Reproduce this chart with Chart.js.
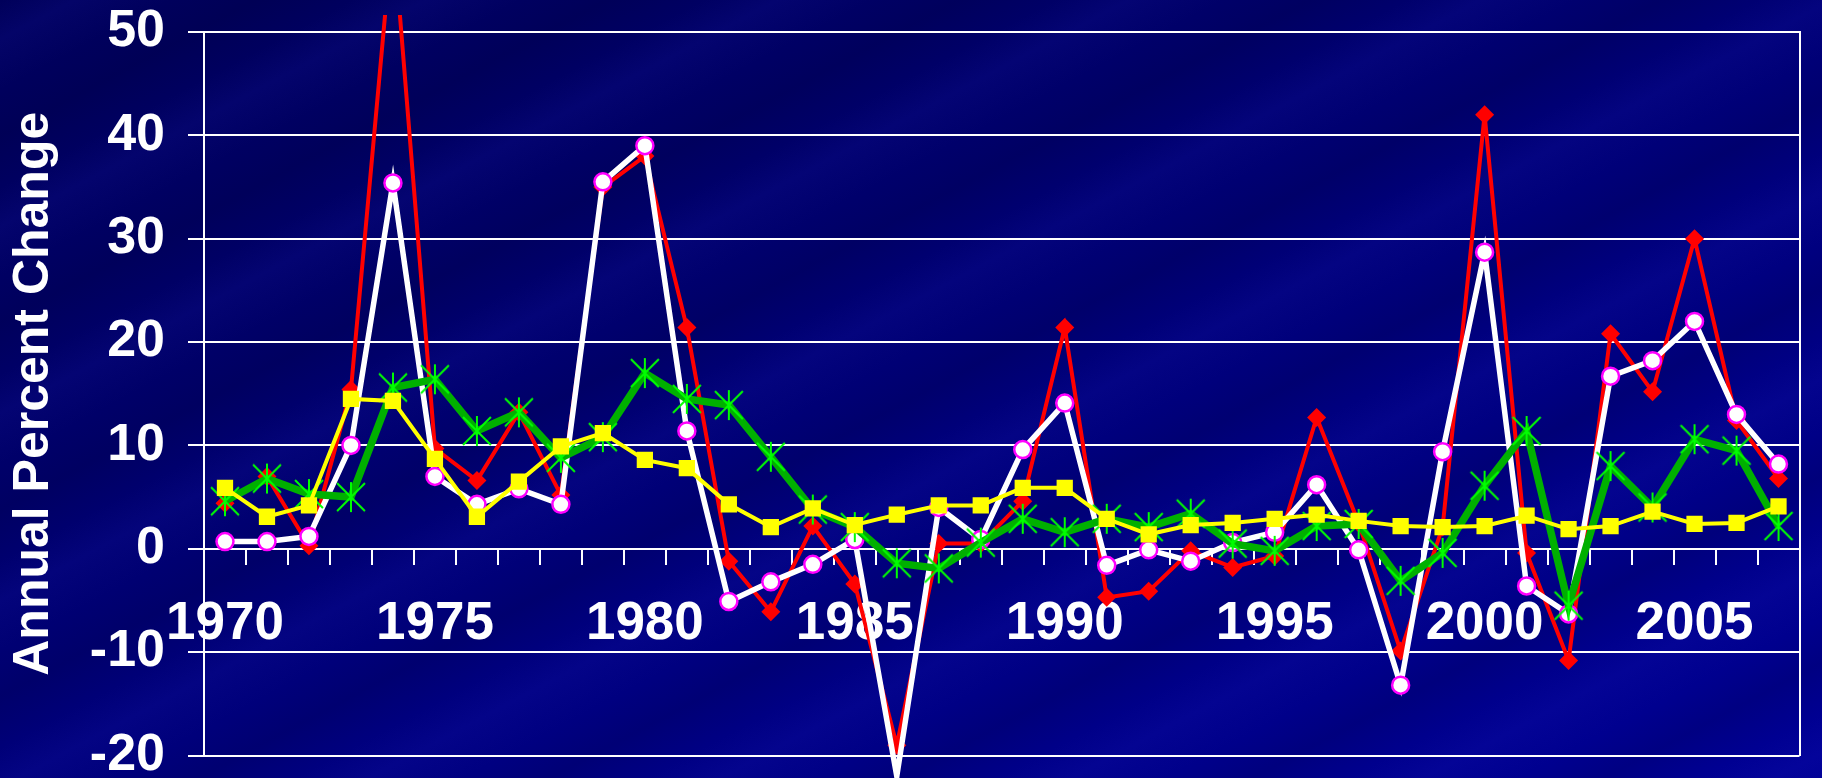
<!DOCTYPE html>
<html>
<head>
<meta charset="utf-8">
<script src="https://cdn.jsdelivr.net/npm/chart.js@4.4.1/dist/chart.umd.min.js"></script>
<style>
  html, body { margin: 0; padding: 0; background: #000070; }
  #wrap {
    width: 1822px; height: 778px; position: relative; overflow: hidden;
    background:
      repeating-linear-gradient(152deg, rgba(40,40,220,0) 0px, rgba(40,40,220,0.10) 35px, rgba(40,40,220,0) 80px, rgba(0,0,30,0.12) 120px, rgba(0,0,0,0) 165px),
      linear-gradient(160deg, #00005a 0%, #000068 30%, #00007e 60%, #000094 100%);
  }
  canvas { display: block; }
</style>
</head>
<body>
<div id="wrap"><canvas id="chart" width="1822" height="778"></canvas></div>
<script>
// categorie (anni) e etichette mostrate sull'asse x
const years = ['1970','1971','1972','1973','1974','1975','1976','1977','1978','1979',
  '1980','1981','1982','1983','1984','1985','1986','1987','1988','1989',
  '1990','1991','1992','1993','1994','1995','1996','1997','1998','1999',
  '2000','2001','2002','2003','2004','2005','2006','2007'];
const tickYears = ['1970','1975','1980','1985','1990','1995','2000','2005'];
const yTicks = [-20, -10, 0, 10, 20, 30, 40, 50];

// serie (variazione percentuale annua)
const redSeries = [4.4, 7.0, 0.3, 15.4, 60, 9.7, 6.6, 13.2, 5.2, 35.0,
  38.0, 21.4, -1.2, -6.1, 2.2, -3.4, -19.0, 0.5, 0.5, 4.6,
  21.4, -4.7, -4.1, -0.2, -1.8, -0.7, 12.7, 2.5, -9.9, 2.1,
  42.0, -0.4, -10.8, 20.8, 15.2, 30.0, 12.4, 6.8];
const whiteSeries = [0.7, 0.7, 1.2, 10.0, 35.4, 7.0, 4.3, 5.8, 4.3, 35.5,
  39.0, 11.4, -5.1, -3.2, -1.5, 0.9, -22.0, 4.0, 0.9, 9.6,
  14.1, -1.6, -0.1, -1.2, 0.6, 1.6, 6.2, -0.1, -13.2, 9.4,
  28.7, -3.6, -6.3, 16.7, 18.2, 22.0, 13.0, 8.2];
const greenSeries = [4.6, 6.8, 5.3, 5.0, 15.6, 16.4, 11.4, 13.2, 8.8, 10.8,
  17.0, 14.5, 13.9, 8.9, 3.8, 2.1, -1.4, -1.9, 0.6, 2.9,
  1.6, 2.9, 2.1, 3.4, 0.5, -0.2, 2.2, 2.4, -3.1, -0.4,
  6.1, 11.4, -5.5, 8.0, 4.0, 10.6, 9.5, 2.2];
const yellowSeries = [5.9, 3.1, 4.2, 14.5, 14.3, 8.7, 3.1, 6.5, 9.9, 11.2,
  8.6, 7.8, 4.3, 2.1, 3.9, 2.3, 3.3, 4.2, 4.2, 5.9,
  5.9, 2.9, 1.4, 2.3, 2.5, 2.9, 3.3, 2.7, 2.2, 2.1,
  2.2, 3.2, 1.9, 2.2, 3.6, 2.4, 2.5, 4.1];

const FONT = "'Liberation Sans', Arial, sans-serif";

// marcatore asterisco (stile Excel: verticale + due diagonali)
function makeAsterisk(size, color, lw) {
  const c = document.createElement('canvas');
  c.width = size; c.height = size;
  const g = c.getContext('2d');
  g.strokeStyle = color;
  g.lineWidth = lw;
  const m = size / 2, r = size / 2 - 1, d = r * 0.93;
  g.beginPath();
  g.moveTo(m, m - r); g.lineTo(m, m + r);
  g.moveTo(m - d, m - d); g.lineTo(m + d, m + d);
  g.moveTo(m + d, m - d); g.lineTo(m - d, m + d);
  g.stroke();
  return c;
}
const asterisk = makeAsterisk(32, '#00FF00', 2);

const lineClip = { left: 2, top: 17, right: 2, bottom: 24 };

new Chart(document.getElementById('chart'), {
  type: 'line',
  data: {
    labels: years,
    datasets: [
      { data: yellowSeries, order: 0, borderColor: '#FFFF00', borderWidth: 4,
        pointStyle: 'rect', pointRadius: 11.5, pointBackgroundColor: '#FFFF00',
        pointBorderColor: '#FFFF00', pointBorderWidth: 0, clip: lineClip },
      { data: greenSeries, order: 1, borderColor: '#00B000', borderWidth: 7.5,
        pointStyle: asterisk, pointRadius: 15, clip: lineClip },
      { data: whiteSeries, order: 2, borderColor: '#FFFFFF', borderWidth: 5.5,
        pointStyle: 'circle', pointRadius: 8.5, pointBackgroundColor: '#FFFFFF',
        pointBorderColor: '#FF00FF', pointBorderWidth: 2.5, clip: lineClip },
      { data: redSeries, order: 3, borderColor: '#FF0000', borderWidth: 4,
        pointStyle: 'rectRot', pointRadius: 9.5, pointBackgroundColor: '#FF0000',
        pointBorderColor: '#FF0000', pointBorderWidth: 0, clip: lineClip }
    ]
  },
  options: {
    responsive: false,
    animation: false,
    layout: { padding: { left: 0, top: 32, right: 18, bottom: 21 } },
    plugins: { legend: { display: false }, tooltip: { enabled: false } },
    scales: {
      x: {
        type: 'category',
        position: { y: 0 },
        offset: true,
        grid: { display: true, drawOnChartArea: false, offset: true, tickLength: 15, color: '#FFFFFF', lineWidth: 2 },
        border: { display: true, color: '#FFFFFF', width: 2 },
        ticks: {
          autoSkip: false, maxRotation: 0, minRotation: 0, color: '#FFFFFF', padding: 29,
          font: { family: FONT, size: 53, weight: 'bold', lineHeight: 1.2 },
          callback: function (value) {
            const lab = this.getLabelForValue(value);
            return tickYears.includes(lab) ? lab : '';
          }
        }
      },
      y: {
        position: 'left',
        min: yTicks[0],
        max: yTicks[yTicks.length - 1],
        afterBuildTicks: (scale) => { scale.ticks = yTicks.map(v => ({ value: v })); },
        afterFit: (scale) => {
          // larghezza fissa dell'asse e nessun margine extra sopra/sotto
          scale.width = 204;
          scale.paddingTop = 0;
          scale.paddingBottom = 0;
        },
        grid: { color: '#FFFFFF', lineWidth: 2, tickLength: 16, drawTicks: true },
        border: { display: true, color: '#FFFFFF', width: 2 },
        ticks: { color: '#FFFFFF', padding: 23, font: { family: FONT, size: 52, weight: 'bold', lineHeight: 0.8 } },
        title: {
          display: true, text: 'Annual Percent Change', color: '#FFFFFF',
          padding: { top: 4, bottom: 0 },
          font: { family: FONT, size: 50, weight: 'bold', lineHeight: 1.2 }
        }
      },
      y2: {
        position: 'right',
        min: yTicks[0],
        max: yTicks[yTicks.length - 1],
        grid: { drawOnChartArea: false, drawTicks: false },
        border: { display: true, color: '#FFFFFF', width: 2 },
        ticks: { display: false }
      }
    }
  }
});
</script>
</body>
</html>
